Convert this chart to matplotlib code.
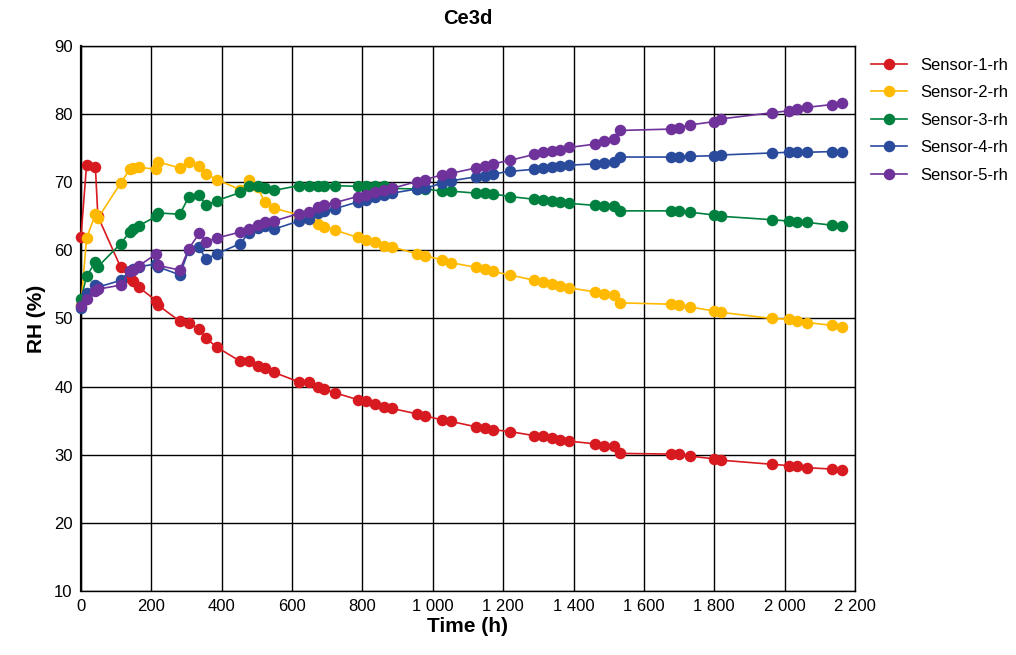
import numpy as np
import matplotlib
matplotlib.use("Agg")
import matplotlib.pyplot as plt
from matplotlib.ticker import FuncFormatter, MultipleLocator

plt.rcParams['font.family'] = ['Liberation Sans', 'DejaVu Sans']

# measurement times (h)
time_h = [0, 16, 41, 48, 113, 139, 149, 164, 214, 218,
          281, 306, 336, 355, 386, 453, 477, 502, 522, 548,
          619, 649, 675, 690, 721, 786, 811, 836, 860, 884,
          955, 979, 1027, 1051, 1123, 1147, 1170, 1219, 1289, 1314,
          1338, 1362, 1387, 1462, 1486, 1515, 1532, 1676, 1700, 1730,
          1800, 1820, 1964, 2013, 2036, 2065, 2134, 2164]

sensor1 = [62.0, 72.6, 72.2, 65.0, 57.5, 55.9, 55.5, 54.6, 52.6, 52.0,
           49.6, 49.4, 48.4, 47.1, 45.8, 43.7, 43.8, 43.1, 42.8, 42.1,
           40.7, 40.7, 39.9, 39.6, 39.1, 38.1, 37.9, 37.5, 37.0, 36.8,
           36.0, 35.7, 35.1, 34.9, 34.1, 33.9, 33.7, 33.4, 32.8, 32.7,
           32.4, 32.2, 32.0, 31.6, 31.3, 31.3, 30.2, 30.1, 30.1, 29.8,
           29.4, 29.2, 28.6, 28.4, 28.3, 28.1, 27.9, 27.7]

sensor2 = [52.0, 61.8, 65.3, 64.7, 69.9, 71.9, 72.1, 72.2, 71.9, 73.0,
           72.1, 72.9, 72.4, 71.2, 70.4, 68.9, 70.3, 69.3, 67.1, 66.2,
           65.2, 64.6, 63.9, 63.5, 63.0, 61.9, 61.5, 61.2, 60.7, 60.5,
           59.5, 59.2, 58.6, 58.2, 57.5, 57.3, 56.9, 56.4, 55.6, 55.3,
           55.0, 54.8, 54.5, 53.9, 53.6, 53.4, 52.3, 52.1, 52.0, 51.7,
           51.1, 50.9, 50.0, 49.9, 49.6, 49.4, 49.0, 48.8]

sensor3 = [52.8, 56.2, 58.3, 57.6, 61.0, 62.7, 63.1, 63.6, 65.0, 65.5,
           65.3, 67.8, 68.1, 66.6, 67.3, 68.5, 69.5, 69.5, 69.2, 68.8,
           69.5, 69.5, 69.5, 69.5, 69.5, 69.4, 69.4, 69.4, 69.4, 69.1,
           69.0, 69.0, 68.7, 68.7, 68.4, 68.4, 68.3, 67.9, 67.5, 67.4,
           67.2, 67.1, 66.9, 66.6, 66.5, 66.5, 65.8, 65.8, 65.8, 65.6,
           65.2, 65.0, 64.5, 64.3, 64.2, 64.1, 63.7, 63.6]

sensor4 = [51.5, 53.7, 54.9, 54.6, 55.6, 57.0, 57.2, 57.6, 58.0, 57.6,
           56.4, 60.0, 60.5, 58.7, 59.5, 61.0, 62.6, 63.3, 63.6, 63.1,
           64.3, 64.6, 65.5, 65.8, 66.1, 67.1, 67.4, 67.8, 68.1, 68.4,
           69.0, 69.1, 69.9, 70.2, 70.8, 70.9, 71.2, 71.6, 71.9, 72.1,
           72.2, 72.4, 72.5, 72.7, 72.8, 73.0, 73.7, 73.7, 73.7, 73.8,
           73.9, 74.0, 74.3, 74.4, 74.4, 74.4, 74.5, 74.5]

sensor5 = [51.8, 52.9, 54.0, 54.3, 54.9, 56.9, 57.1, 57.7, 59.5, 57.8,
           57.1, 60.2, 62.5, 61.3, 61.8, 62.7, 63.1, 63.7, 64.1, 64.3,
           65.4, 65.6, 66.3, 66.7, 67.0, 67.9, 68.2, 68.5, 68.9, 69.1,
           70.1, 70.4, 71.1, 71.3, 72.1, 72.4, 72.7, 73.2, 74.1, 74.4,
           74.6, 74.7, 75.1, 75.6, 76.1, 76.4, 77.6, 77.8, 78.0, 78.4,
           78.9, 79.3, 80.2, 80.5, 80.7, 81.0, 81.4, 81.6]

labels = ["Sensor-1-rh", "Sensor-2-rh", "Sensor-3-rh", "Sensor-4-rh", "Sensor-5-rh"]
colors = ["#D71A20", "#FFBA00", "#00803E", "#2A4A9C", "#6F319A"]
series = [sensor1, sensor2, sensor3, sensor4, sensor5]

fig = plt.figure(figsize=(10.16, 6.55), dpi=100)
ax = fig.add_axes([0.0797, 0.0977, 0.7618, 0.8321])

for vals, c, lab in zip(series, colors, labels):
    ax.plot(time_h, vals, color=c, lw=1.2, marker='o', ms=8.3,
            markeredgewidth=0, label=lab, clip_on=False, zorder=3)

ax.set_xlim(0, 2200)
ax.set_ylim(10, 90)
ax.xaxis.set_major_locator(MultipleLocator(200))
ax.yaxis.set_major_locator(MultipleLocator(10))
ax.xaxis.set_major_formatter(FuncFormatter(lambda v, p: f"{int(v):,}".replace(",", " ")))
ax.grid(True, color="black", lw=1.0)
ax.set_axisbelow(True)
for s in ax.spines.values():
    s.set_color("black")
    s.set_linewidth(1.0)
ax.spines['left'].set_linewidth(1.6)
ax.tick_params(length=0, labelsize=12, pad=6)

ax.set_title("Ce3d", fontsize=14.5, fontweight="bold", pad=16)
ax.set_xlabel("Time (h)", fontsize=15, fontweight="bold", labelpad=2)
ax.set_ylabel("RH (%)", fontsize=15, fontweight="bold", labelpad=6)

ax.legend(loc="upper left", bbox_to_anchor=(1.005, 1.0), frameon=False,
          fontsize=12, handlelength=2.2, labelspacing=0.75, borderaxespad=0.3)

fig.savefig("out.png", dpi=100)
